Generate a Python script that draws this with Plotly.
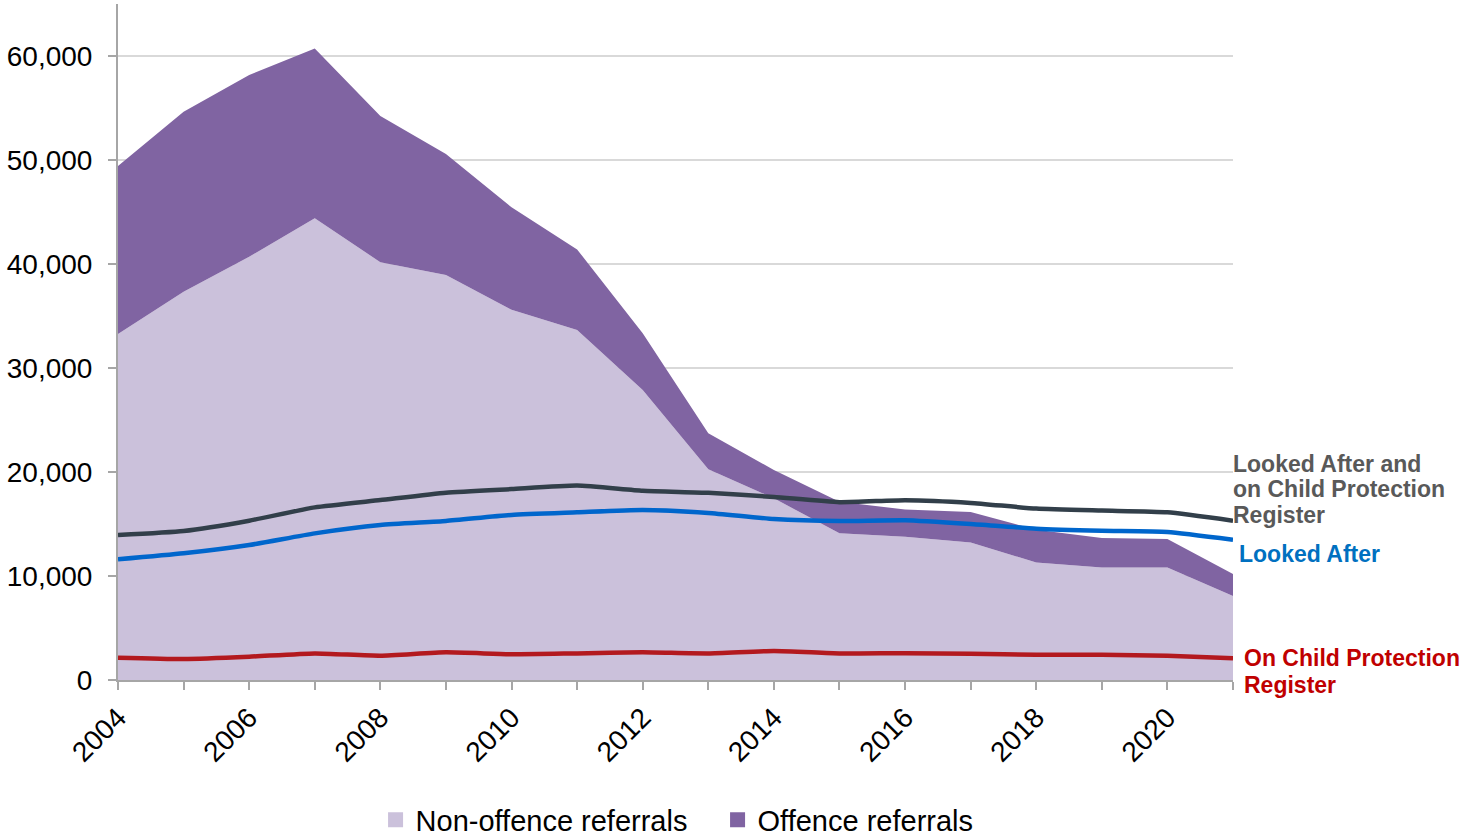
import plotly.graph_objects as go

# Children's Hearings referrals and children looked after / on the register, 2004-2021
years = list(range(2004, 2022))

non_offence_referrals = [33270, 37340, 40700, 44390, 40170, 38940, 35600, 33650, 27880,
                         20260, 17470, 14100, 13780, 13230, 11290, 10810, 10810, 8070]
offence_referrals = [16150, 17300, 17470, 16340, 14060, 11640, 9850, 7750, 5460,
                     3460, 2720, 3050, 2610, 2930, 3160, 2840, 2740, 2120]

looked_after_and_cp = [13940, 14330, 15320, 16600, 17300, 18010, 18360, 18690, 18200,
                       18000, 17600, 17100, 17290, 17030, 16480, 16290, 16130, 15320]
looked_after = [11600, 12180, 12980, 14100, 14900, 15290, 15870, 16120, 16350,
                16060, 15480, 15290, 15360, 15000, 14550, 14350, 14230, 13480]
on_cp_register = [2150, 2020, 2240, 2560, 2340, 2660, 2470, 2560, 2660,
                  2550, 2790, 2550, 2580, 2520, 2420, 2420, 2320, 2100]

x_tick_text = [str(y) if y % 2 == 0 else "" for y in years]
y_tick_vals = [0, 10000, 20000, 30000, 40000, 50000, 60000]

LIGHT_PURPLE = "#CBC1DB"
PURPLE = "#8064A2"
DARK = "#323F4A"
BLUE = "#0066CC"
RED = "#B3191E"
FONT = "Liberation Sans, Arial, sans-serif"

fig = go.Figure()

# Stacked referral areas
fig.add_trace(go.Scatter(x=years, y=non_offence_referrals, stackgroup="refs",
                         mode="none", fillcolor=LIGHT_PURPLE, showlegend=False,
                         name="Non-offence referrals"))
fig.add_trace(go.Scatter(x=years, y=offence_referrals, stackgroup="refs",
                         mode="none", fillcolor=PURPLE, showlegend=False,
                         name="Offence referrals"))

# Lines
for vals, col, nm in [(looked_after_and_cp, DARK, "Looked After and on Child Protection Register"),
                      (looked_after, BLUE, "Looked After"),
                      (on_cp_register, RED, "On Child Protection Register")]:
    fig.add_trace(go.Scatter(x=years, y=vals, mode="lines", name=nm, showlegend=False,
                             line=dict(color=col, width=4.5, shape="spline", smoothing=0.5)))

# Legend entries with square swatches
for nm, col in [("Non-offence referrals", LIGHT_PURPLE), ("Offence referrals", PURPLE)]:
    fig.add_trace(go.Scatter(x=[None], y=[None], mode="markers", name=nm,
                             marker=dict(symbol="square", size=15, color=col)))

# Series labels at the right end, one annotation per text line (paper coordinates)
label_lines = [
    ("Looked After and", 0.3195, "#595959", -2),
    ("on Child Protection", 0.2825, "#595959", -2),
    ("Register", 0.2441, "#595959", -2),
    ("Looked After", 0.1864, "#0070C0", 4),
    ("On Child Protection", 0.0325, "#C00000", 9),
    ("Register", -0.0074, "#C00000", 9),
]
for txt, yv, col, shift in label_lines:
    fig.add_annotation(x=1, xref="paper", y=yv, yref="paper", text=txt, showarrow=False,
                       xanchor="left", yanchor="middle", align="left", xshift=shift,
                       font=dict(family=FONT, size=23, color=col, weight="bold"))

fig.update_layout(
    width=1462, height=838,
    margin=dict(l=118, r=229, t=4, b=158, autoexpand=False),
    paper_bgcolor="white", plot_bgcolor="white",
    font=dict(family=FONT, color="black"),
    legend=dict(orientation="h", x=0.231, xanchor="left", y=-0.207, yanchor="middle",
                font=dict(size=29, family=FONT, color="black"), itemwidth=30,
                entrywidth=297, traceorder="normal"),
    xaxis=dict(range=[2004, 2021], tickvals=years, ticktext=x_tick_text,
               tickangle=-45, tickfont=dict(size=28, family=FONT, color="black"),
               ticks="outside", ticklen=8, tickcolor="#A6A6A6", tickwidth=2,
               ticklabelstandoff=0, automargin=False,
               showline=True, linecolor="#A6A6A6", linewidth=2,
               showgrid=False, zeroline=False),
    yaxis=dict(range=[0, 65000], tickvals=y_tick_vals, tickformat=",d",
               tickfont=dict(size=28, family=FONT, color="black"),
               ticks="outside", ticklen=8, tickcolor="#A6A6A6", tickwidth=2,
               ticklabelstandoff=10, automargin=False,
               showline=True, linecolor="#A6A6A6", linewidth=2,
               showgrid=True, gridcolor="#D9D9D9", gridwidth=2, zeroline=False),
)

fig.write_html("out.html")
